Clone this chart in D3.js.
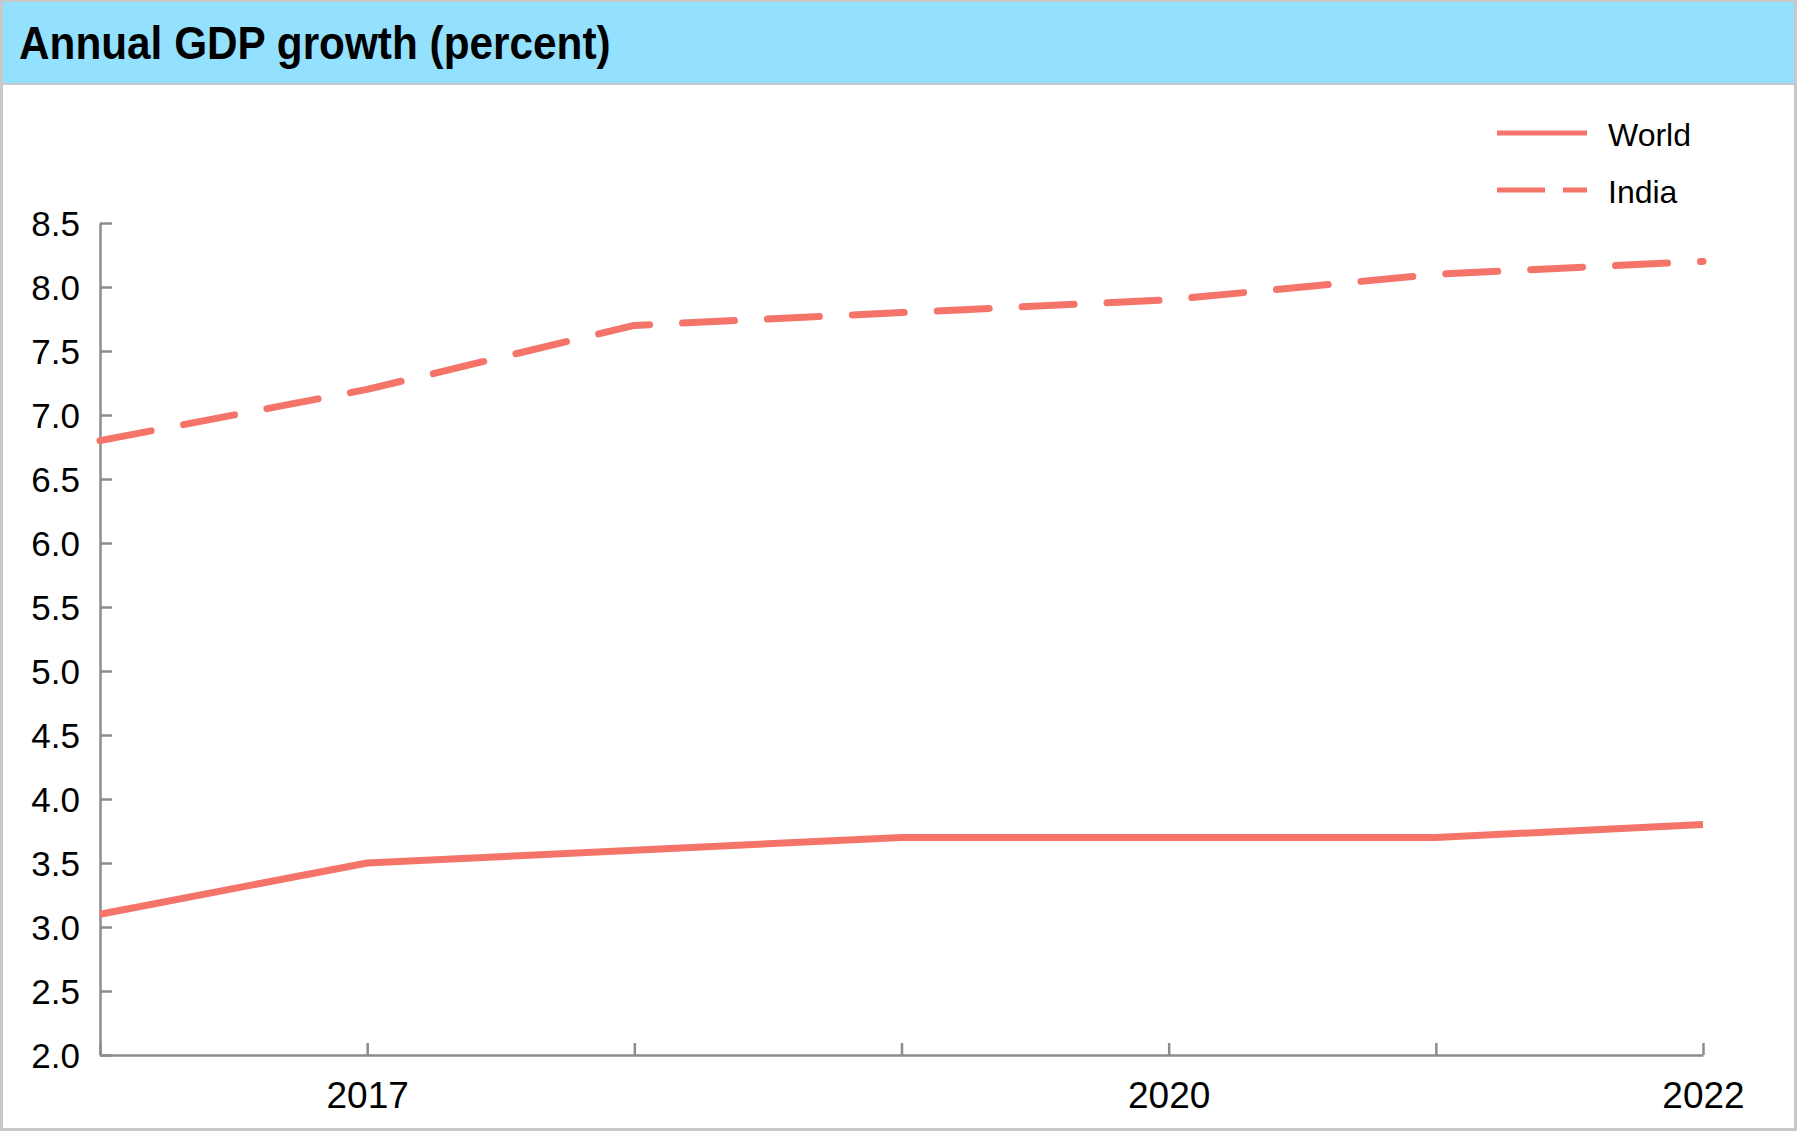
<!DOCTYPE html>
<html>
<head>
<meta charset="utf-8">
<script src="https://cdn.jsdelivr.net/npm/d3@7"></script>
<style>
  body { margin: 0; background: #fff; }
  svg { display: block; font-family: "Liberation Sans", Arial, sans-serif; }
</style>
</head>
<body>
<svg width="1798" height="1131" viewBox="0 0 1798 1131"></svg>
<script>
// Data
const years = [2016, 2017, 2018, 2019, 2020, 2021, 2022];
const world = [3.1, 3.5, 3.6, 3.7, 3.7, 3.7, 3.8];
const india = [6.8, 7.2, 7.7, 7.8, 7.9, 8.1, 8.2];
const yTicks = [2.0, 2.5, 3.0, 3.5, 4.0, 4.5, 5.0, 5.5, 6.0, 6.5, 7.0, 7.5, 8.0, 8.5];
const xLabels = [2017, 2020, 2022];

const svg = d3.select("svg");
const W = 1798, H = 1131;
const lineColor = "#f4746a";
const axisColor = "#8c8c8c";

// Frame and header band
svg.append("rect").attr("x", 1.5).attr("y", 1).attr("width", W - 4).attr("height", H - 2.5)
    .attr("fill", "#fff").attr("stroke", "#c8c8c8").attr("stroke-width", 3);
svg.append("rect").attr("x", 3).attr("y", 2).attr("width", W - 7).attr("height", 81)
    .attr("fill", "#94e0ff");
svg.append("line").attr("x1", 3).attr("x2", W - 4).attr("y1", 84).attr("y2", 84)
    .attr("stroke", "#c8c8c8").attr("stroke-width", 2);
// title font is a bit condensed in the original
svg.append("text").attr("transform", "translate(19,59) scale(0.92,1)")
    .attr("font-size", 46).attr("font-weight", "bold").attr("fill", "#000")
    .text("Annual GDP growth (percent)");

// Scales
const x = d3.scaleLinear().domain([2016, 2022]).range([100, 1703]);
const y = d3.scaleLinear().domain([2.0, 8.5]).range([1055, 223]);

// Y axis (ticks pointing inward)
const yAxis = svg.append("g").attr("transform", "translate(100,0)")
    .call(d3.axisRight(y).tickValues(yTicks).tickSize(12).tickSizeOuter(0).tickFormat(d3.format(".1f")));
yAxis.select(".domain").attr("stroke", axisColor).attr("stroke-width", 2.5);
yAxis.selectAll(".tick line").attr("stroke", axisColor).attr("stroke-width", 2.5);
yAxis.selectAll(".tick text")
    .attr("x", -20).attr("text-anchor", "end").attr("dy", "0.35em")
    .attr("font-size", 35).attr("fill", "#000").attr("font-family", "Liberation Sans, Arial, sans-serif");

// X axis (ticks pointing inward)
const xAxis = svg.append("g").attr("transform", "translate(0,1055)")
    .call(d3.axisTop(x).tickValues(years).tickSize(12).tickSizeOuter(0)
        .tickFormat(d => xLabels.includes(d) ? String(d) : ""));
xAxis.select(".domain").attr("stroke", axisColor).attr("stroke-width", 2.5);
xAxis.selectAll(".tick line").attr("stroke", axisColor).attr("stroke-width", 2.5);
xAxis.selectAll(".tick text")
    .attr("y", 53).attr("dy", 0)
    .attr("font-size", 37).attr("fill", "#000").attr("font-family", "Liberation Sans, Arial, sans-serif");

// Lines
const line = d3.line().x((d, i) => x(years[i])).y(d => y(d));

svg.append("path").datum(world)
    .attr("d", line).attr("fill", "none")
    .attr("stroke", lineColor).attr("stroke-width", 7).attr("stroke-linejoin", "round");

svg.append("path").datum(india)
    .attr("d", line).attr("fill", "none")
    .attr("stroke", lineColor).attr("stroke-width", 7)
    .attr("stroke-linecap", "round").attr("stroke-linejoin", "round")
    .attr("stroke-dasharray", "52,33");

// Legend
const legend = [
    { name: "World", dash: null, y: 133 },
    { name: "India", dash: "48,18", y: 190 }
];
const lg = svg.append("g");
legend.forEach(d => {
    lg.append("line").attr("x1", 1497).attr("x2", 1587).attr("y1", d.y).attr("y2", d.y)
        .attr("stroke", lineColor).attr("stroke-width", 5)
        .attr("stroke-dasharray", d.dash);
    lg.append("text").attr("x", 1608).attr("y", d.y + 13)
        .attr("font-size", 32).attr("fill", "#000").text(d.name);
});
</script>
</body>
</html>
